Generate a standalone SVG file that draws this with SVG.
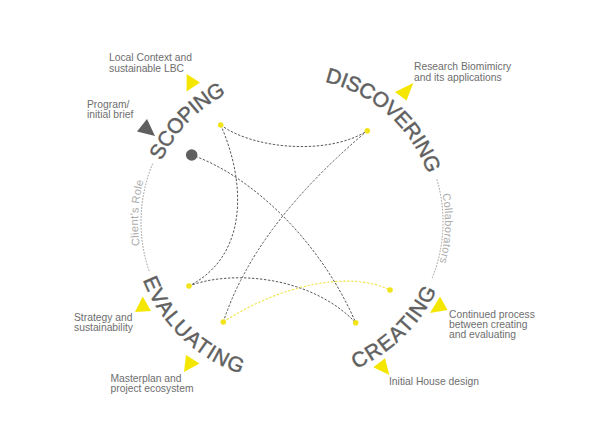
<svg xmlns="http://www.w3.org/2000/svg" xmlns:xlink="http://www.w3.org/1999/xlink" width="615" height="448" viewBox="0 0 615 448">
<style>
.word{font-family:"Liberation Sans",Arial,sans-serif;font-size:21px;fill:#606060;stroke:#606060;stroke-width:0.45px;letter-spacing:0.4px;dominant-baseline:central}
.lbl{font-family:"Liberation Sans",Arial,sans-serif;font-size:10.3px;fill:#6e6e6e}
.side{font-family:"Liberation Sans",Arial,sans-serif;font-size:11px;fill:#ababab;letter-spacing:0.3px}
.ring{fill:none;stroke:#9a9a9a;stroke-width:1;stroke-dasharray:1.6 1.4}
.link{fill:none;stroke:#585858;stroke-width:1;stroke-dasharray:2.4 1.6}
.ylink{fill:none;stroke:#f0e34a;stroke-width:1.1;stroke-dasharray:2.4 1.6}
.ydot{fill:#f2e41c}
.ytri{fill:#f5e600}
.gtri{fill:#5f5f5f}
</style>
<defs>
<path id="pScoping" d="M140.4,211.4 A152,152 0 0 1 276.1,70.8"/>
<path id="pDiscovering" d="M297,70.1 A152,152 0 0 1 442.5,200.6"/>
<path id="pEvaluating" d="M140.9,238.8 A152,152 0 0 0 282.3,373.7"/>
<path id="pCreating" d="M303,373.6 A152,152 0 0 0 443.2,237.5"/>
<path id="pClient" d="M154.3,291 A154,154 0 0 1 163.4,137.2"/>
<path id="pCollab" d="M423.7,144.1 A153,153 0 0 1 416.7,310.6"/>
</defs>
<rect width="615" height="448" fill="#ffffff"/>

<g id="ring">
<path class="ring" d="M152.7,163.7 A151,151 0 0 0 149.3,271.4"/>
<path class="ring" d="M436.9,179.4 A151,151 0 0 1 432.2,278.1"/>
<text class="side"><textPath xlink:href="#pClient" href="#pClient" startOffset="50%" text-anchor="middle">Client’s Role</textPath></text>
<text class="side"><textPath xlink:href="#pCollab" href="#pCollab" startOffset="50%" text-anchor="middle">Collaborators</textPath></text>
</g>

<g id="connectors">
<path class="link" d="M220.7,125 C255,150 330,155 367.3,130.7"/>
<path class="link" d="M220.7,125 C245,180 250,255 189,286"/>
<path class="link" d="M367.3,130.7 Q254.7,225.7 223.3,322"/>
<path class="link" d="M191.7,155 C250,175 320,240 355.7,322.7"/>
<path class="link" d="M189,286 C230,270 310,275 355.7,322.7"/>
<path class="ylink" d="M223.3,322 C280,285 350,270 390,290"/>
<circle class="ydot" cx="220.7" cy="125" r="2.8"/>
<circle class="ydot" cx="367.3" cy="130.7" r="2.8"/>
<circle class="ydot" cx="189" cy="286" r="2.8"/>
<circle class="ydot" cx="223.3" cy="322" r="2.8"/>
<circle class="ydot" cx="355.7" cy="322.7" r="2.8"/>
<circle class="ydot" cx="390" cy="290" r="2.8"/>
<circle cx="191.7" cy="155" r="5.8" fill="#5f5f5f"/>
</g>

<g id="scoping">
<text class="word"><textPath xlink:href="#pScoping" href="#pScoping" startOffset="50%" text-anchor="middle">SCOPING</textPath></text>
<polygon class="ytri" points="186.7,74 200,82.5 186.5,91.5"/>
<text class="lbl" x="109" y="61">Local Context and</text>
<text class="lbl" x="109" y="71.5">sustainable LBC</text>
<polygon class="gtri" points="147,119 137,131.5 155,136"/>
<text class="lbl" x="87" y="107.5">Program/</text>
<text class="lbl" x="87" y="118">initial brief</text>
</g>

<g id="discovering">
<text class="word"><textPath xlink:href="#pDiscovering" href="#pDiscovering" startOffset="50%" text-anchor="middle">DISCOVERING</textPath></text>
<polygon class="ytri" points="413.3,83 395,92 406.5,100.5"/>
<text class="lbl" x="414" y="70">Research Biomimicry</text>
<text class="lbl" x="414" y="80.5">and its applications</text>
</g>

<g id="evaluating">
<text class="word"><textPath xlink:href="#pEvaluating" href="#pEvaluating" startOffset="50%" text-anchor="middle">EVALUATING</textPath></text>
<polygon class="ytri" points="142.7,296.5 135,312 151,311"/>
<text class="lbl" x="74" y="321">Strategy and</text>
<text class="lbl" x="74" y="331">sustainability</text>
<polygon class="ytri" points="186,355 199.5,363.5 184,372"/>
<text class="lbl" x="110.5" y="382">Masterplan and</text>
<text class="lbl" x="110.5" y="392">project ecosystem</text>
</g>

<g id="creating">
<text class="word"><textPath xlink:href="#pCreating" href="#pCreating" startOffset="50%" text-anchor="middle">CREATING</textPath></text>
<polygon class="ytri" points="440,296.5 430,313 447.5,310"/>
<text class="lbl" x="449" y="318">Continued process</text>
<text class="lbl" x="449" y="328">between creating</text>
<text class="lbl" x="449" y="338">and evaluating</text>
<polygon class="ytri" points="385,358.3 373.3,367.3 389.3,375"/>
<text class="lbl" x="389" y="385">Initial House design</text>
</g>
</svg>
